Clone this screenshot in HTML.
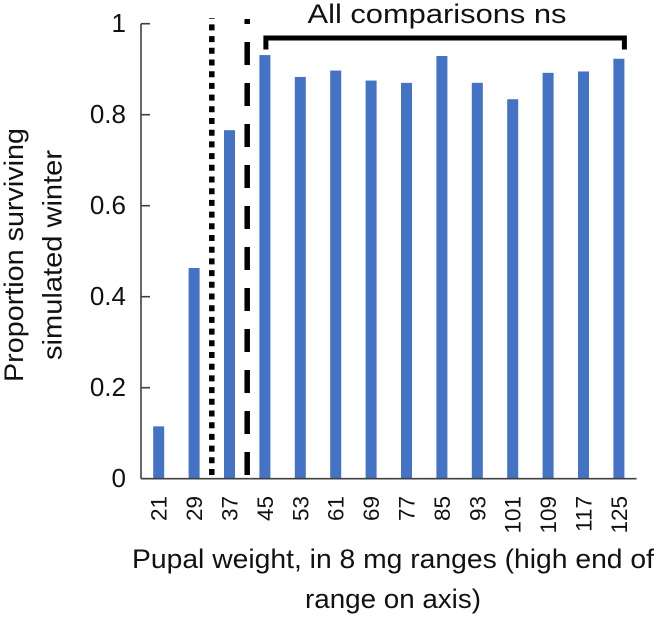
<!DOCTYPE html>
<html lang="en">
<head>
<meta charset="utf-8">
<title>Proportion surviving simulated winter by pupal weight</title>
<style>
html,body{margin:0;padding:0;background:#fff;}
svg{display:block;font-family:"Liberation Sans",sans-serif;fill:#111;}
</style>
</head>
<body>
<svg id="chart" width="656" height="617" viewBox="0 0 656 617" xmlns="http://www.w3.org/2000/svg">
  <rect width="656" height="617" fill="#ffffff"/>
  <g id="bars"></g>
  <g id="axes"></g>
  <g id="annotations"></g>
  <g font-size="27" text-anchor="middle">
    <text transform="translate(23,255) rotate(-90)" textLength="254" lengthAdjust="spacingAndGlyphs">Proportion surviving</text>
    <text transform="translate(61.5,255) rotate(-90)" textLength="210" lengthAdjust="spacingAndGlyphs">simulated winter</text>
  </g>
  <g font-size="27" text-anchor="middle">
    <text x="393" y="568" textLength="522" lengthAdjust="spacingAndGlyphs">Pupal weight, in 8 mg ranges (high end of</text>
    <text x="393" y="608" textLength="176" lengthAdjust="spacingAndGlyphs">range on axis)</text>
  </g>
  <text x="437" y="23" font-size="27" text-anchor="middle" textLength="259" lengthAdjust="spacingAndGlyphs">All comparisons ns</text>
</svg>
<script>
const categories = ["21","29","37","45","53","61","69","77","85","93","101","109","117","125"];
const survival = [0.115,0.463,0.766,0.931,0.883,0.897,0.875,0.870,0.929,0.870,0.834,0.892,0.895,0.923];
const yTicks = [0,0.2,0.4,0.6,0.8,1];
const yTickLabels = ["0","0.2","0.4","0.6","0.8","1"];

const NS = "http://www.w3.org/2000/svg";
const plotLeft = 141, plotRight = 636.6, plotBottom = 478.7, plotTop = 23.7;
const band = (plotRight - plotLeft) / categories.length;
function xScale(i) { return plotLeft + band * (i + 0.5); }
function yScale(v) { return plotBottom - (plotBottom - plotTop) * v; }
function make(tag, attrs, parent) {
  const el = document.createElementNS(NS, tag);
  for (const k in attrs) el.setAttribute(k, attrs[k]);
  parent.appendChild(el);
  return el;
}

const barsG = document.getElementById("bars");
const axesG = document.getElementById("axes");
const annG = document.getElementById("annotations");
const barWidth = 11;

categories.forEach(function (cat, i) {
  const bar = make("rect", {
    x: xScale(i) - barWidth / 2,
    y: yScale(survival[i]),
    width: barWidth,
    height: plotBottom - yScale(survival[i]),
    fill: "#4472c4"
  }, barsG);
  
  

  const label = make("text", {
    transform: "translate(" + (xScale(i) + 8) + ",496) rotate(-90)",
    "text-anchor": "end",
    "font-size": 22.5
  }, axesG);
  label.textContent = cat;
  
  
});

const yAxisLine = make("line", { x1: plotLeft, x2: plotLeft, y1: plotTop, y2: plotBottom, stroke: "#404040", "stroke-width": 1.6 }, axesG);



const xAxisLine = make("line", { x1: plotLeft, x2: plotRight, y1: plotBottom, y2: plotBottom, stroke: "#404040", "stroke-width": 1.6 }, axesG);



yTicks.forEach(function (t, i) {
  const tick = make("line", { x1: plotLeft, x2: plotLeft + 9, y1: yScale(t), y2: yScale(t), stroke: "#404040", "stroke-width": 1.6 }, axesG);
  
  

  const label = make("text", { x: 126, y: yScale(t) + 8.5, "text-anchor": "end", "font-size": 26 }, axesG);
  label.textContent = yTickLabels[i];
  
  
});

const dotted = make("line", { x1: xScale(1.5), x2: xScale(1.5), y1: 475, y2: 18, stroke: "#000", "stroke-width": 5.5, "stroke-dasharray": "6 5.7" }, annG);



const dashed = make("line", { x1: xScale(2.5), x2: xScale(2.5), y1: 475, y2: 19, stroke: "#000", "stroke-width": 5.5, "stroke-dasharray": "23 18" }, annG);



const bracketLeft = xScale(3) + 1, bracketRight = xScale(13) + 5.5;
const bracket = make("path", {
  d: "M" + bracketLeft + " 49.5V38H" + bracketRight + "V49.5",
  fill: "none", stroke: "#000", "stroke-width": 5
}, annG);


</script>
</body>
</html>
